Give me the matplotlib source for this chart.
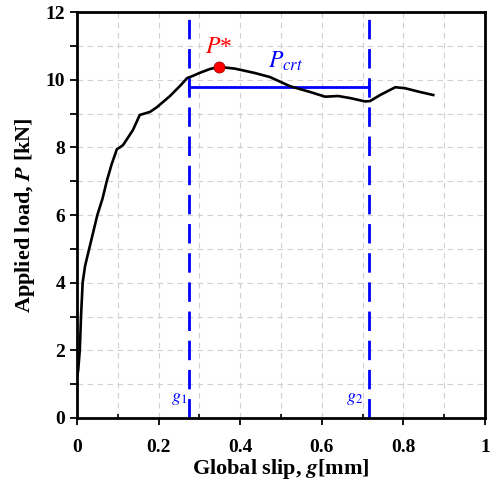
import numpy as np
import matplotlib
matplotlib.use("Agg")
import matplotlib.pyplot as plt
from matplotlib.ticker import MultipleLocator, FixedLocator

# load-slip curve
slip = [0.0, 0.003, 0.007, 0.01, 0.014, 0.02, 0.03, 0.04, 0.05, 0.063, 0.073, 0.085,
        0.098, 0.105, 0.113, 0.137, 0.154, 0.179, 0.196, 0.228, 0.255, 0.27, 0.285,
        0.30, 0.326, 0.348, 0.387, 0.436, 0.473, 0.522, 0.571, 0.608, 0.64, 0.669,
        0.706, 0.718, 0.743, 0.78, 0.804, 0.84, 0.873]
load = [1.2, 1.4, 2.0, 3.0, 4.0, 4.5, 5.0, 5.5, 6.0, 6.5, 7.0, 7.5,
        7.95, 8.0, 8.07, 8.51, 8.96, 9.05, 9.19, 9.52, 9.85, 10.05, 10.12,
        10.2, 10.32, 10.38, 10.33, 10.2, 10.08, 9.81, 9.64, 9.5, 9.52, 9.46,
        9.36, 9.37, 9.55, 9.78, 9.75, 9.64, 9.55]

peak = (0.348, 10.38)
g1, g2 = 0.2745, 0.716
p_crt = 9.79

plt.rcParams['font.family'] = ['Liberation Serif', 'DejaVu Serif']
plt.rcParams['mathtext.fontset'] = 'stix'

fig = plt.figure(figsize=(4.9, 4.86), dpi=100)
ax = fig.add_axes([0.157, 0.14, 0.833, 0.835])

ax.plot(slip, load, color='black', lw=1.9, zorder=3)
ax.plot(*peak, 'o', color='red', ms=8, mec='darkred', mew=0.5, zorder=4)

for g in (g1, g2):
    ax.axvline(g, color='blue', lw=2, ls=(0, (7, 3.5)), zorder=2)
ax.plot([g1, g2], [p_crt, p_crt], color='blue', lw=2, zorder=2)
ax.plot([g1, g1], [p_crt - 0.12, p_crt + 0.12], color='blue', lw=1.5)
ax.plot([g2, g2], [p_crt - 0.12, p_crt + 0.12], color='blue', lw=1.5)

ax.text(0.348, 10.8, r'$P$*', color='red', fontsize=17, ha='center', va='baseline')
ax.text(0.51, 10.35, r'$P_{crt}$', color='blue', fontsize=17, ha='center', va='baseline')
ax.text(0.25, 0.5, r'$g_1$', color='blue', fontsize=13, ha='center', va='baseline')
ax.text(0.68, 0.5, r'$g_2$', color='blue', fontsize=13, ha='center', va='baseline')

ax.set_xlim(0, 1)
ax.set_ylim(0, 12)
ax.xaxis.set_major_locator(FixedLocator([0, 0.2, 0.4, 0.6, 0.8, 1.0]))
ax.set_xticklabels(['0', '0.2', '0.4', '0.6', '0.8', '1'])
ax.xaxis.set_minor_locator(MultipleLocator(0.1))
ax.yaxis.set_major_locator(MultipleLocator(2))
ax.yaxis.set_minor_locator(MultipleLocator(1))

ax.grid(which='both', color='#d0d0d0', ls=(0, (5, 4)), lw=0.8, zorder=0)
ax.set_axisbelow(True)
for s in ax.spines.values():
    s.set_linewidth(2)

ax.tick_params(axis='y', which='both', direction='out', length=5, width=1.3,
               labelsize=14)
ax.tick_params(axis='x', which='major', direction='out', length=5, width=1.3,
               labelsize=14, pad=10)
ax.tick_params(axis='x', which='minor', direction='in', length=3, width=1.2)
for lab in ax.get_xticklabels() + ax.get_yticklabels():
    lab.set_fontweight('bold')

ax.set_xlabel(r'Global slip, $\boldsymbol{g}$[mm]', fontsize=16, fontweight='bold', labelpad=1)
ax.set_ylabel(r'Applied load, $\boldsymbol{P}$ [kN]', fontsize=16, fontweight='bold', labelpad=6)

fig.savefig('out.png', dpi=100)
